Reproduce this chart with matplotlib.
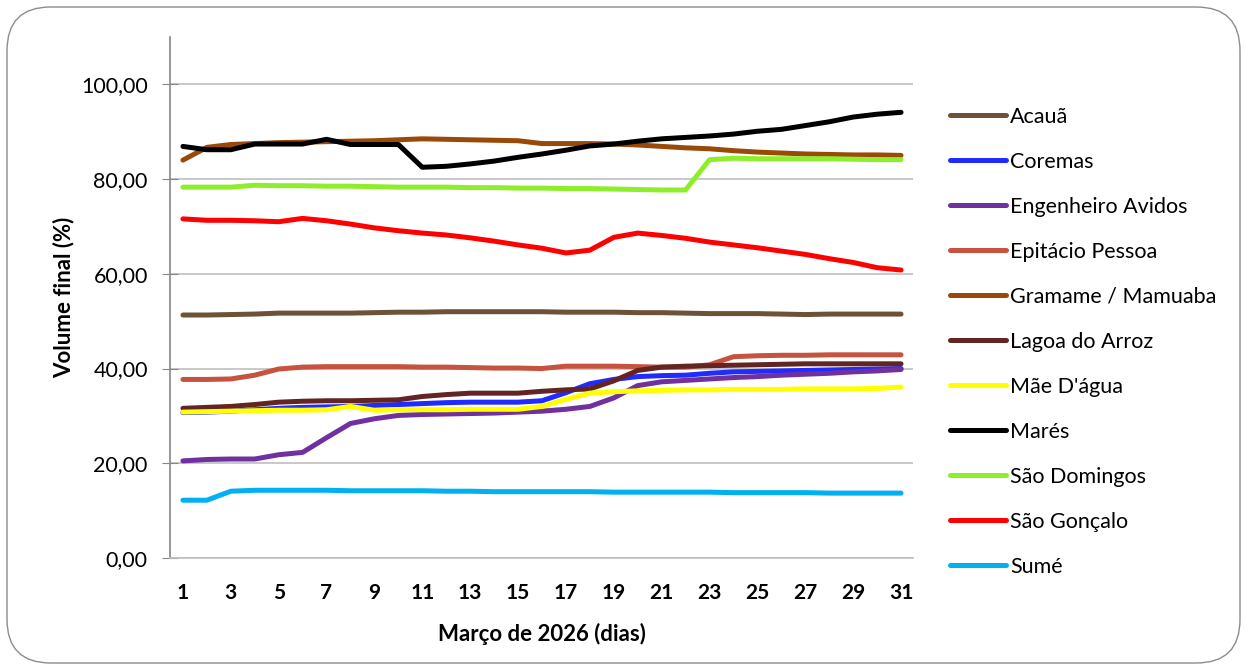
import numpy as np
import matplotlib.pyplot as plt
from matplotlib.patches import FancyBboxPatch
from matplotlib.ticker import FuncFormatter, MultipleLocator

plt.rcParams['font.family'] = ['Lato', 'DejaVu Sans']

days = list(range(1, 32))

acaua = [51.3, 51.3, 51.4, 51.5, 51.7, 51.7, 51.7, 51.7, 51.8, 51.9, 51.9, 52.0, 52.0, 52.0, 52.0, 52.0,
         51.9, 51.9, 51.9, 51.8, 51.8, 51.7, 51.6, 51.6, 51.6, 51.5, 51.4, 51.5, 51.5, 51.5, 51.5]
coremas = [30.7, 30.8, 31.0, 31.3, 31.6, 31.8, 31.9, 32.0, 32.2, 32.4, 32.6, 32.8, 32.9, 32.9, 32.9, 33.2,
           34.9, 36.8, 37.7, 38.3, 38.5, 38.6, 39.0, 39.3, 39.4, 39.5, 39.6, 39.7, 39.8, 39.9, 40.0]
eng_avidos = [20.5, 20.8, 20.9, 20.9, 21.8, 22.3, 25.4, 28.4, 29.4, 30.1, 30.3, 30.4, 30.5, 30.6, 30.8, 31.0,
              31.4, 32.0, 33.8, 36.4, 37.2, 37.5, 37.8, 38.1, 38.3, 38.6, 38.8, 39.0, 39.3, 39.5, 39.8]
epitacio = [37.7, 37.7, 37.8, 38.6, 39.9, 40.3, 40.4, 40.4, 40.4, 40.4, 40.3, 40.3, 40.2, 40.1, 40.1, 40.0,
            40.5, 40.5, 40.5, 40.4, 40.3, 40.3, 40.8, 42.5, 42.7, 42.8, 42.8, 42.9, 42.9, 42.9, 42.9]
gramame = [84.0, 86.7, 87.3, 87.5, 87.7, 87.8, 87.9, 88.0, 88.1, 88.3, 88.5, 88.4, 88.3, 88.2, 88.1, 87.5,
           87.5, 87.5, 87.4, 87.2, 86.9, 86.6, 86.4, 86.0, 85.7, 85.5, 85.3, 85.2, 85.1, 85.1, 85.0]
lagoa = [31.6, 31.8, 32.0, 32.4, 32.9, 33.1, 33.2, 33.2, 33.3, 33.4, 34.1, 34.5, 34.8, 34.8, 34.8, 35.2,
         35.5, 35.7, 37.4, 39.6, 40.3, 40.5, 40.6, 40.7, 40.8, 40.9, 41.0, 41.0, 41.0, 41.0, 41.0]
mae_dagua = [30.8, 30.9, 31.0, 31.1, 31.2, 31.2, 31.3, 32.0, 31.2, 31.3, 31.3, 31.3, 31.4, 31.4, 31.4, 32.0,
             33.5, 34.8, 35.1, 35.3, 35.4, 35.5, 35.5, 35.6, 35.6, 35.6, 35.7, 35.7, 35.7, 35.8, 36.1]
mares = [86.9, 86.2, 86.2, 87.4, 87.4, 87.4, 88.4, 87.3, 87.3, 87.3, 82.5, 82.7, 83.2, 83.8, 84.6, 85.3,
         86.1, 87.0, 87.4, 88.0, 88.5, 88.8, 89.1, 89.5, 90.1, 90.5, 91.3, 92.1, 93.1, 93.7, 94.1]
sao_domingos = [78.3, 78.3, 78.3, 78.7, 78.6, 78.6, 78.5, 78.5, 78.4, 78.3, 78.3, 78.3, 78.2, 78.2, 78.1, 78.1,
                78.0, 78.0, 77.9, 77.8, 77.7, 77.7, 84.1, 84.4, 84.3, 84.3, 84.3, 84.3, 84.2, 84.1, 84.1]
sao_goncalo = [71.6, 71.3, 71.3, 71.2, 71.0, 71.7, 71.2, 70.5, 69.7, 69.1, 68.6, 68.2, 67.6, 66.9, 66.1, 65.4,
               64.4, 65.0, 67.7, 68.6, 68.1, 67.5, 66.7, 66.1, 65.5, 64.8, 64.1, 63.2, 62.4, 61.3, 60.8]
sume = [12.2, 12.2, 14.1, 14.3, 14.3, 14.3, 14.3, 14.2, 14.2, 14.2, 14.2, 14.1, 14.1, 14.0, 14.0, 14.0,
        14.0, 14.0, 13.9, 13.9, 13.9, 13.9, 13.9, 13.8, 13.8, 13.8, 13.8, 13.7, 13.7, 13.7, 13.7]

names = ['Acauã', 'Coremas', 'Engenheiro Avidos', 'Epitácio Pessoa', 'Gramame / Mamuaba',
         'Lagoa do Arroz', "Mãe D'água", 'Marés', 'São Domingos', 'São Gonçalo', 'Sumé']
series = [acaua, coremas, eng_avidos, epitacio, gramame, lagoa, mae_dagua, mares,
          sao_domingos, sao_goncalo, sume]
colors = ['#6E5238', '#1F2BFF', '#7030A0', '#C5533F', '#9A4A08', '#632523', '#FFFF00',
          '#000000', '#8FEE2C', '#FF0000', '#00B0F0']

fig = plt.figure(figsize=(12.49, 6.70), dpi=100)

# rounded frame around the whole chart
frame = FancyBboxPatch((7/1249, 7/670), 1233/1249, 656/670,
                       boxstyle='round,pad=0,rounding_size=0.035',
                       transform=fig.transFigure, fill=False,
                       edgecolor='#8C8C8C', linewidth=1.0, mutation_aspect=1249/670)
fig.patches.append(frame)

ax = fig.add_axes([170/1249, 1 - 558/670, (913 - 170)/1249, (558 - 37)/670])

for name, vals, c in zip(names, series, colors):
    ax.plot(days, vals, color=c, lw=3.6, label=name, solid_capstyle='round',
            solid_joinstyle='round')

ax.set_xlim(0.46, 31.5)
ax.set_ylim(0, 110)
ax.set_yticks(np.arange(0, 101, 20))
ax.yaxis.set_major_formatter(FuncFormatter(lambda v, p: f'{v:.2f}'.replace('.', ',')))
ax.set_xticks(days[::2])
ax.xaxis.set_minor_locator(MultipleLocator(1))
ax.grid(axis='y', color='#BFBFBF', lw=1.2)
ax.set_axisbelow(True)

for s in ['top', 'right']:
    ax.spines[s].set_visible(False)
ax.spines['left'].set_color('#868686')
ax.spines['bottom'].set_color('#BFBFBF')
ax.spines['left'].set_linewidth(1.2)
ax.spines['bottom'].set_linewidth(1.2)

ax.tick_params(axis='y', direction='inout', length=12, color='#868686', labelsize=15.5, pad=10)
ax.tick_params(axis='x', which='both', length=0, labelsize=15, pad=18)
for lbl in ax.get_xticklabels():
    lbl.set_fontweight('bold')

ax.set_ylabel('Volume final (%)', fontsize=16, fontweight='bold', labelpad=5)
ax.set_xlabel('Março de 2026 (dias)', fontsize=16, fontweight='bold', labelpad=14)

fig.legend(loc='upper left', bbox_to_anchor=(950/1249, 1 - 107/670), frameon=False,
           fontsize=15.5, handlelength=2.6, handletextpad=0.2, labelspacing=1.16,
           borderpad=0, borderaxespad=0)

fig.savefig('out.png', dpi=100)
